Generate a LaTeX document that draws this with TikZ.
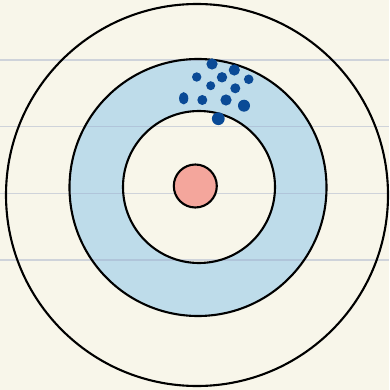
\documentclass[tikz,border=0pt]{standalone}
\definecolor{bgc}{HTML}{F8F6EA}
\definecolor{ringblue}{HTML}{BEDCEA}
\definecolor{dotblue}{HTML}{0A4A96}
\definecolor{bullred}{HTML}{F4A69C}
\definecolor{ruled}{HTML}{9FAAC8}
\begin{document}
\begin{tikzpicture}[x=1pt,y=-1pt,
  ring/.style={draw=black,line width=2.1pt},
  shot/.style={fill=dotblue},
  rule/.style={draw=ruled,line width=1.6pt,opacity=0.45}]
\useasboundingbox (0,0) rectangle (389,390);
\fill[bgc] (0,0) rectangle (389,390);
% blue annulus
\fill[ringblue,even odd rule] (198,187.5) circle[radius=128.5] (199,187) circle[radius=76];
% ruled lines
\foreach \yy in {60,126.7,193.3,260}{\draw[rule] (0,\yy) -- (389,\yy);}
% rings
\draw[ring] (197,195) circle[radius=191];
\draw[ring] (198,187.5) circle[radius=128.5];
\draw[ring] (199,187) circle[radius=76];
\draw[ring,fill=bullred] (195.3,186) circle[radius=21.5];
% shots
\fill[shot] (212,64) circle[radius=5.6];
\fill[shot] (234.3,70) circle[radius=5.6];
\fill[shot] (196.7,77) circle[radius=4.7];
\fill[shot] (222,77.3) circle[radius=5.2];
\fill[shot] (248.7,79.3) circle[radius=4.8];
\fill[shot] (210.7,85.7) circle[radius=4.5];
\fill[shot] (235.3,88.3) circle[radius=5];
\fill[shot] (183.7,98.3) ellipse[x radius=4.6,y radius=6.2];
\fill[shot] (202.3,100) circle[radius=5];
\fill[shot] (226,100) circle[radius=5.6];
\fill[shot] (244,105.7) circle[radius=6];
\fill[shot] (218.3,118.7) circle[radius=6.4];
\end{tikzpicture}
\end{document}
